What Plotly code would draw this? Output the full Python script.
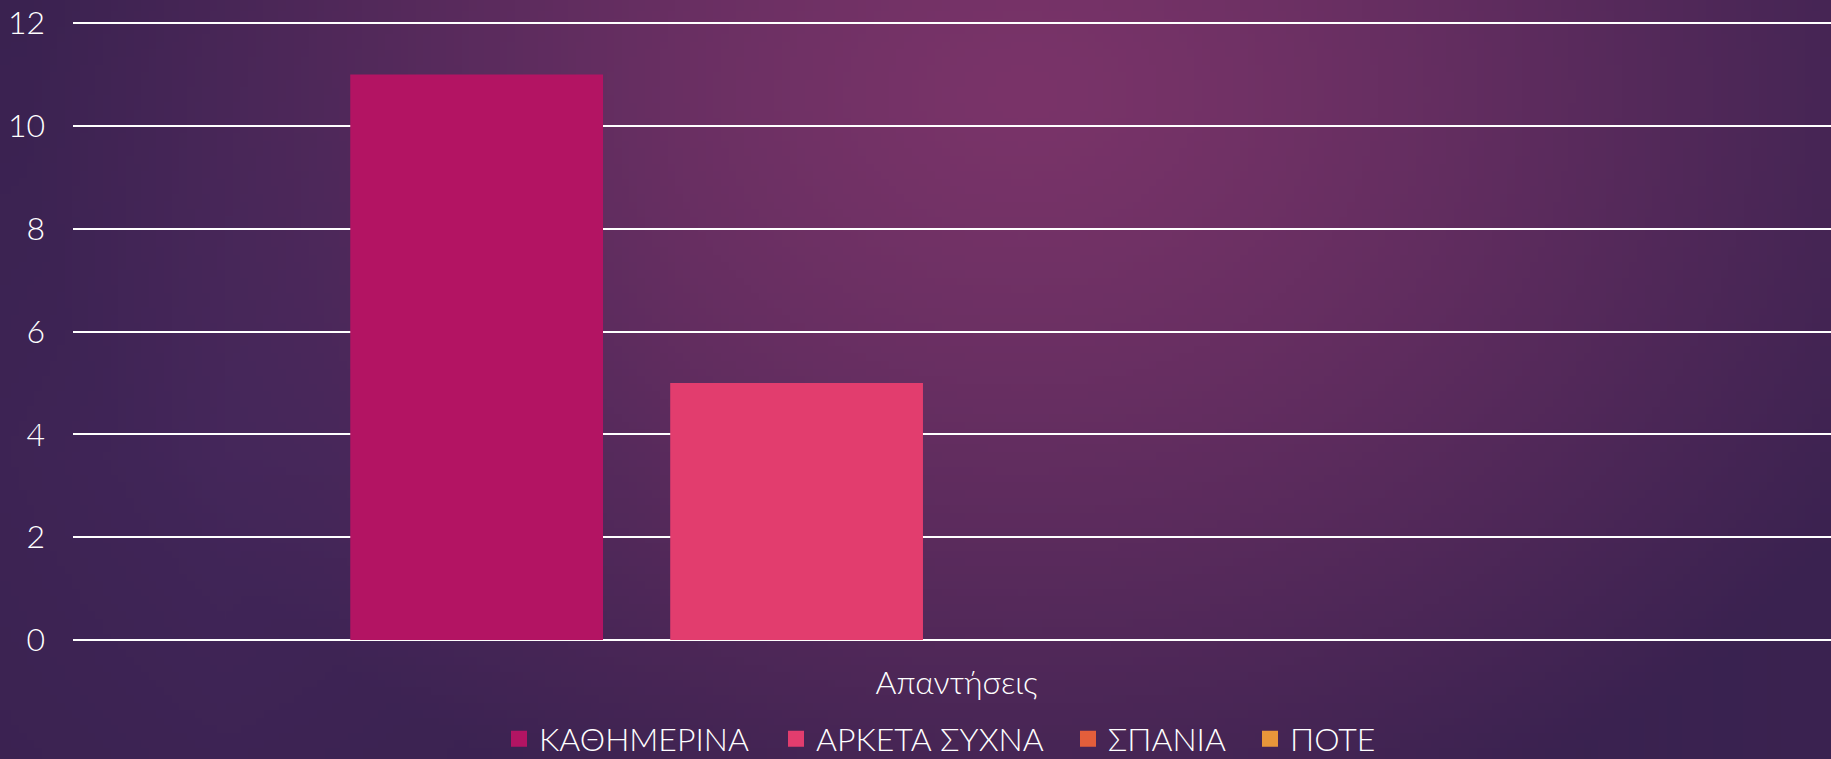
import base64, struct, zlib, math
import plotly.graph_objects as go

# ---------------- data ----------------
categories = ["Απαντήσεις"]
series_names = ["ΚΑΘΗΜΕΡΙΝΑ", "ΑΡΚΕΤΑ ΣΥΧΝΑ", "ΣΠΑΝΙΑ", "ΠΟΤΕ"]
series_values = [[11], [5], [0], [0]]
series_colors = ["#b31463", "#e23d6e", "#e35e3b", "#e8963a"]
y_ticks = [0, 2, 4, 6, 8, 10, 12]

# ---------------- layout geometry (styling only) ----------------
W, H = 1831, 775           # page window is 759 tall
PX_PER_UNIT = 617 / 12
L, R, B = 73, 0, H - 640
T = 21
PW, PH = W - L - R, H - T - B
Y_TOP = PH / PX_PER_UNIT
legend_left_px = [499, 776, 1068, 1250]   # left edge of each legend box (px)
LEGEND_MID_PX = 739

def make_bg(w=240, h=100):
    inner = (122, 52, 105)
    outer = (58, 34, 80)
    left = (74, 42, 98)
    rows = []
    for j in range(h):
        row = bytearray([0])
        fy = j / (h - 1)
        for i in range(w):
            fx = i / (w - 1)
            dx = (fx - 0.56) / 0.55
            dy = (fy - 0.12) / 1.05
            d = min(1.0, math.sqrt(dx * dx + dy * dy))
            t = d ** 1.3
            c = [inner[k] * (1 - t) + outer[k] * t for k in range(3)]
            lw = max(0.0, 1 - abs(fx - 0.12) / 0.25) * max(0.0, 1 - abs(fy - 0.6) / 0.7) * 0.6
            c = [c[k] * (1 - lw) + left[k] * lw for k in range(3)]
            corner = max(0.0, (abs(fx - 0.5) * 2) ** 3) * 0.2
            c = [c[k] * (1 - corner) + outer[k] * corner for k in range(3)]
            row += bytes(int(max(0, min(255, v))) for v in c)
        rows.append(bytes(row))
    raw = b"".join(rows)
    def chunk(tag, data):
        return struct.pack(">I", len(data)) + tag + data + struct.pack(">I", zlib.crc32(tag + data) & 0xffffffff)
    png = b"\x89PNG\r\n\x1a\n" + chunk(b"IHDR", struct.pack(">IIBBBBB", w, h, 8, 2, 0, 0, 0)) \
        + chunk(b"IDAT", zlib.compress(raw, 9)) + chunk(b"IEND", b"")
    return "data:image/png;base64," + base64.b64encode(png).decode()

FONT = "Lato"
FW = 300
FS = 32

fig = go.Figure()
for name, vals, col in zip(series_names, series_values, series_colors):
    fig.add_trace(go.Bar(x=categories, y=vals, name=name, marker_color=col,
                         marker_line_width=0, showlegend=False))
legend_ids = ["legend", "legend2", "legend3", "legend4"]
for name, col, lid in zip(series_names, series_colors, legend_ids):
    fig.add_trace(go.Scatter(x=[None], y=[None], mode="markers", name=name,
                             legend=lid,
                             marker=dict(symbol="square", size=19, color=col),
                             showlegend=True, hoverinfo="skip"))

legend_common = dict(orientation="h", xanchor="left", yanchor="middle",
                     y=-(LEGEND_MID_PX - (T + PH)) / PH,
                     font=dict(family=FONT, size=FS, color="white", weight=FW),
                     bgcolor="rgba(0,0,0,0)", itemwidth=30, borderwidth=0)
legend_layout = {lid: dict(legend_common, x=(lx - L) / PW)
                 for lid, lx in zip(legend_ids, legend_left_px)}

fig.update_layout(
    width=W, height=H,
    margin=dict(l=L, r=R, t=T, b=B, pad=0),
    paper_bgcolor="#3e2454",
    plot_bgcolor="rgba(0,0,0,0)",
    barmode="group",
    bargap=0.272,
    bargroupgap=0.21,
    font=dict(family=FONT, size=FS, color="white", weight=FW),
    showlegend=True,
    images=[dict(source=make_bg(), xref="paper", yref="paper",
                 x=-L / PW, y=1 + T / PH, sizex=W / PW, sizey=759 / PH,
                 xanchor="left", yanchor="top", sizing="stretch", layer="below")],
    **legend_layout,
)
fig.update_yaxes(range=[0, Y_TOP], tickvals=y_ticks, showgrid=True, gridcolor="white",
                 gridwidth=2, zeroline=True, zerolinecolor="white", zerolinewidth=2,
                 showline=False, ticks="", ticklabelstandoff=27,
                 tickfont=dict(family=FONT, size=FS, color="white", weight=FW))
fig.update_xaxes(range=[-0.5026, 0.4974], showgrid=False, showline=False, ticks="",
                 ticklabelstandoff=21,
                 tickfont=dict(family=FONT, size=FS, color="white", weight=FW))

fig.write_html("out.html", config={"displayModeBar": False},
               post_script="document.body.style.margin='0px';"
                           "document.body.style.overflow='hidden';"
                           "document.documentElement.style.overflow='hidden';")
